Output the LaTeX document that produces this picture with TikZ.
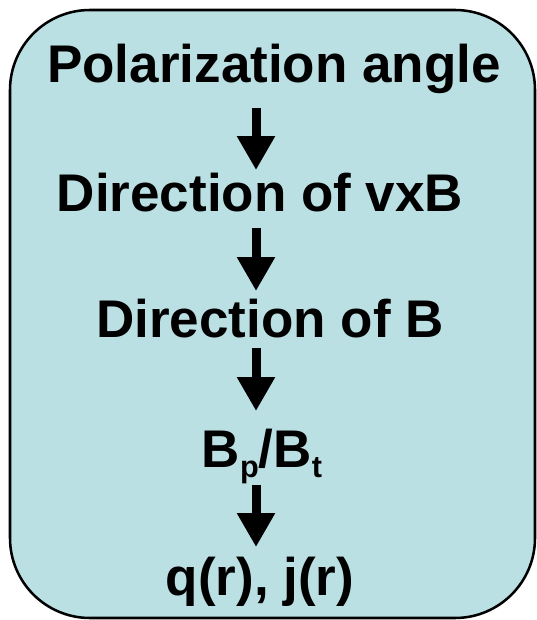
\documentclass[tikz,border=0pt]{standalone}
\usepackage{fontspec}
\setmainfont{Liberation Sans}
\usepackage{xcolor}
\usetikzlibrary{arrows.meta}
\definecolor{ccPanel}{RGB}{187,224,227}
\newcommand{\lowsub}[1]{\raisebox{-0.2em}{\fontsize{23}{23}\selectfont #1}}

\begin{document}
\begin{tikzpicture}[
  x=0.75pt, y=-0.75pt,
  panel/.style={draw=black, line width=1.9pt, fill=ccPanel, rounded corners=60pt},
  stage/.style={anchor=base, inner sep=0pt, text height=29pt, text depth=8pt,
    font=\fontsize{39.75}{46}\selectfont\bfseries},
  flow/.style={-{Triangle[width=27pt,length=25.5pt]}, line width=6.75pt},
]
\useasboundingbox (0,0) rectangle (536,620);
% background panel
\draw[panel] (10,10) rectangle (535,618);
% chain of stages (top to bottom)
\node[stage] (pol) at (274,83) {Polarization angle};
\node[stage] (vxb) at (260,212) {Direction of vxB};
\node[stage] (dirb) at (270,337) {Direction of B};
\node[stage] (ratio) at (262,467) {B\lowsub{p}/B\lowsub{t}};
\node[stage] (qj) at (260,595) {q(r), j(r)};
% arrows along a common axis
\coordinate (ax) at (256,0);
\draw[flow, shorten <=10.5pt, shorten >=2.25pt] (pol.south -| ax) -- (vxb.north -| ax);
\draw[flow, shorten <=3.75pt, shorten >=5.25pt] (vxb.south -| ax) -- (dirb.north -| ax);
\draw[flow, shorten >=12.75pt] (dirb.south -| ax) -- (ratio.north -| ax);
\draw[flow, shorten <=5.25pt, shorten >=6.75pt] (ratio.south -| ax) -- (qj.north -| ax);
\end{tikzpicture}
\end{document}
